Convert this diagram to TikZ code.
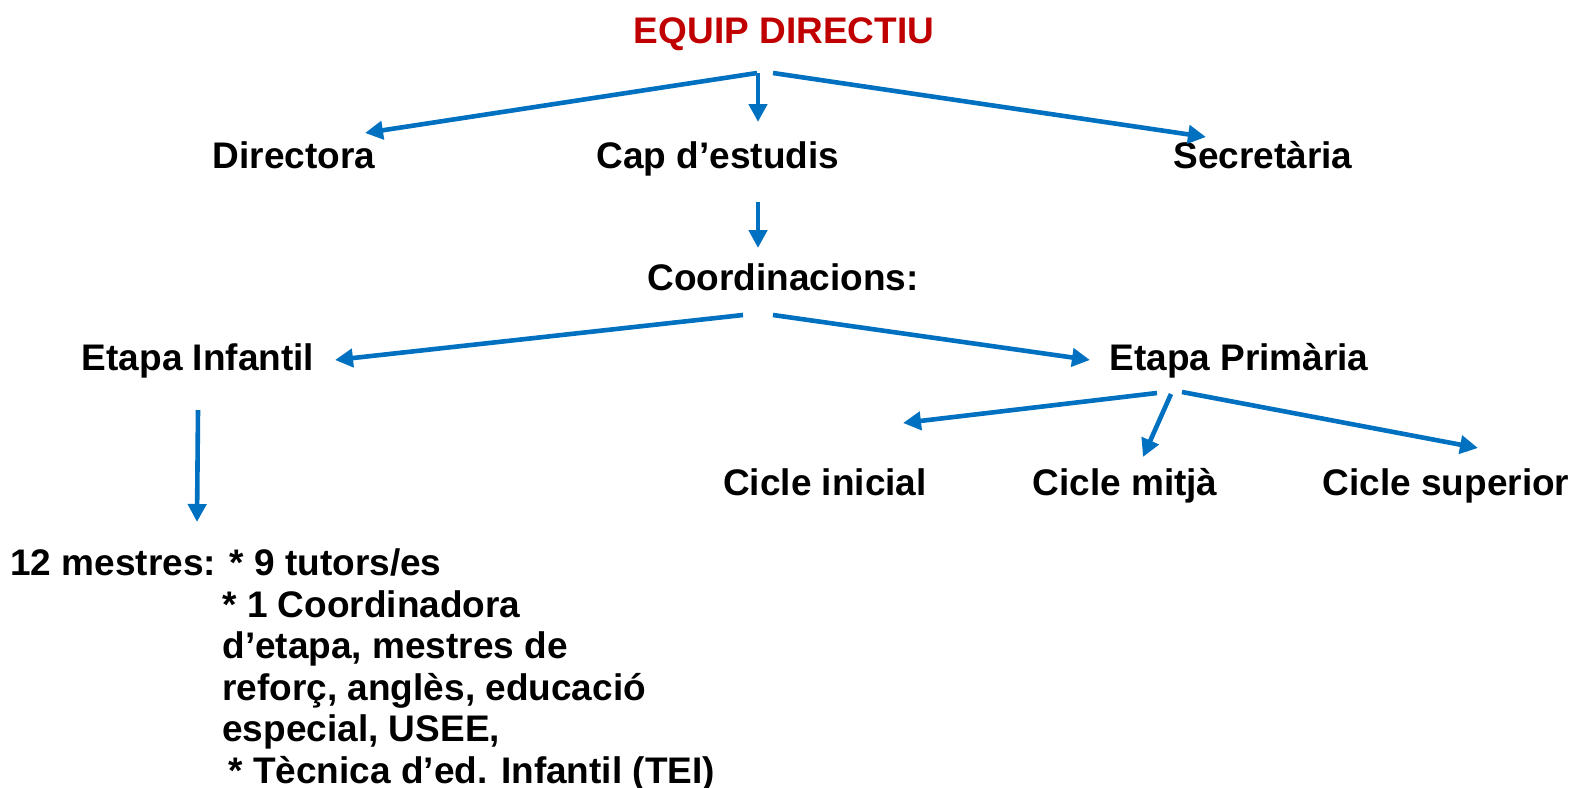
\documentclass[tikz,border=0pt]{standalone}
\usepackage{fontspec}
\setmainfont{Liberation Sans}
\usetikzlibrary{arrows.meta}
\definecolor{lineblue}{HTML}{0070C0}
\definecolor{titlered}{HTML}{C00000}
\begin{document}
\begin{tikzpicture}[x=0.5pt,y=-0.5pt,
  lbl/.style={font=\bfseries\fontsize{18.5}{20.75}\selectfont, inner sep=0pt, anchor=base},
  conn/.style={draw=lineblue, line width=2.3pt, -{Triangle[length=9pt,width=9pt]}}]
\useasboundingbox (0,0) rectangle (1576,788);
% nodes
\node[lbl, text=titlered] (title) at (784,43) {EQUIP DIRECTIU};
\node[lbl] (dir) at (294,168) {Directora};
\node[lbl] (cap) at (718,168) {Cap d’estudis};
\node[lbl] (sec) at (1263,168) {Secretària};
\node[lbl] (coord) at (783,290) {Coordinacions:};
\node[lbl] (inf) at (198,370) {Etapa Infantil};
\node[lbl] (prim) at (1239,370) {Etapa Primària};
\node[lbl] (ini) at (825,495) {Cicle inicial};
\node[lbl] (mit) at (1125,495) {Cicle mitjà};
\node[lbl] (sup) at (1446,495) {Cicle superior};
\node[lbl, anchor=base west, align=left] (mestres) at (10,783)
  {12 mestres: * 9 tutors/es\\
   \hspace*{106pt}* 1 Coordinadora\\
   \hspace*{106pt}d’etapa, mestres de\\
   \hspace*{106pt}reforç, anglès, educació\\
   \hspace*{106pt}especial, USEE,\\
   \hspace*{109pt}* Tècnica d’ed. Infantil (TEI)};
% connector end points
\coordinate (t-l) at (757,73);
\coordinate (t-m) at (758,73);
\coordinate (t-r) at (773,73);
\coordinate (dir-tip) at (365,133);
\coordinate (cap-tip) at (758,122);
\coordinate (sec-tip) at (1206,137);
\coordinate (cap-out) at (758,202);
\coordinate (coord-tip) at (758,248);
\coordinate (c-l) at (743,315);
\coordinate (c-r) at (773,315);
\coordinate (inf-tip) at (335,360);
\coordinate (prim-tip) at (1090,360);
\coordinate (inf-out) at (198,410);
\coordinate (mestres-tip) at (197,522);
\coordinate (p-l) at (1157,393);
\coordinate (p-m) at (1171,394);
\coordinate (p-r) at (1182,392);
\coordinate (ini-tip) at (903,423);
\coordinate (mit-tip) at (1143,457);
\coordinate (sup-tip) at (1478,448);
% connectors
\draw[conn] (t-l) -- (dir-tip);
\draw[conn] (t-m) -- (cap-tip);
\draw[conn] (t-r) -- (sec-tip);
\draw[conn] (cap-out) -- (coord-tip);
\draw[conn] (c-l) -- (inf-tip);
\draw[conn] (c-r) -- (prim-tip);
\draw[conn] (inf-out) -- (mestres-tip);
\draw[conn] (p-l) -- (ini-tip);
\draw[conn] (p-m) -- (mit-tip);
\draw[conn] (p-r) -- (sup-tip);
\end{tikzpicture}
\end{document}
